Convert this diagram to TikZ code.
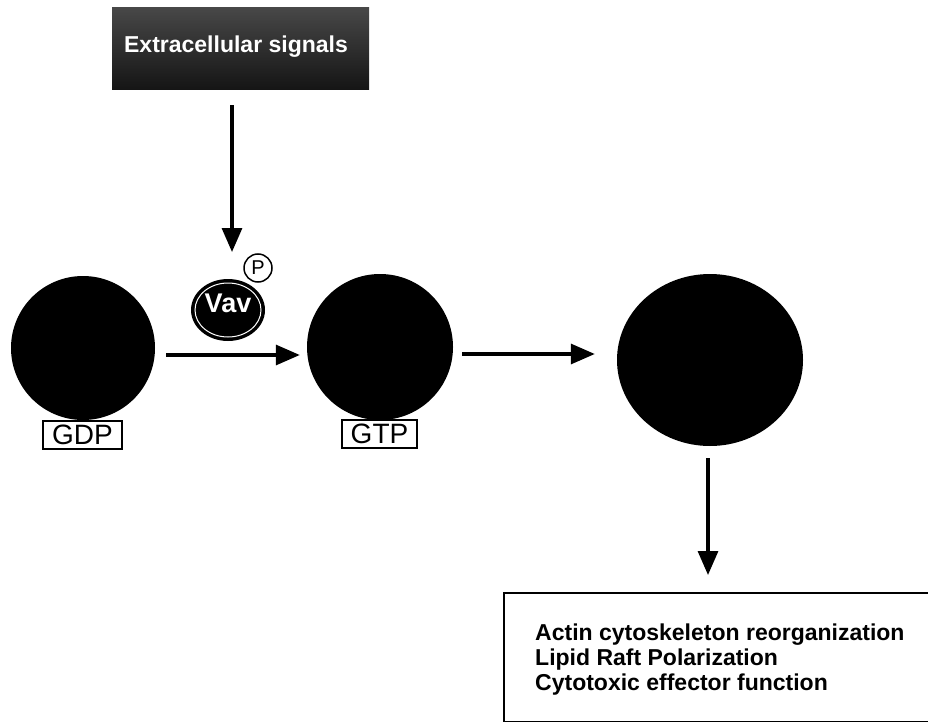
\documentclass[tikz,border=0pt]{standalone}
\usepackage{fontspec}
\setmainfont{Liberation Sans}
\usetikzlibrary{shapes.geometric,arrows.meta}
\begin{document}
\begin{tikzpicture}[x=1pt,y=-1pt,
  arr/.style={line width=3.2pt,-{Triangle[length=24pt,width=20pt]}},
  ball/.style={circle,fill=black,inner sep=0pt},
  tag/.style={draw,line width=1.8pt,inner sep=0pt,minimum height=28pt,font=\fontsize{28}{28}\selectfont},
  restxt/.style={anchor=base west,inner sep=0pt,font=\bfseries\fontsize{23}{25}\selectfont}]
\useasboundingbox (0,0) rectangle (928,722);
% top box
\node[top color=black!72,bottom color=black!92,minimum width=257pt,minimum height=82pt,inner sep=0pt] (sig) at (240.5,49) {};
\node[anchor=base,inner sep=0pt,text=white,font=\bfseries\fontsize{23}{23}\selectfont] (sigt) at (236,53) {Extracellular signals};
\coordinate (act) at (232,252);
% GTPase states
\node[ball,minimum size=144pt] (c1) at (83,348) {};
\node[ball,minimum size=146pt] (c2) at (380,347) {};
\node[ellipse,fill=black,inner sep=0pt,minimum width=186pt,minimum height=172pt] (c3) at (710,360) {};
\node[tag,minimum width=79pt] (gdp) at (82.5,435) {GDP};
\node[tag,minimum width=75pt] (gtp) at (379.5,434) {GTP};
% Vav
\node[ellipse,fill=black,inner sep=0pt,minimum width=74pt,minimum height=62pt] (vav) at (228,310) {};
\draw[white,line width=1pt] (vav.center) ellipse [x radius=33,y radius=27];
\node[inner sep=0pt,text=white,font=\bfseries\fontsize{27}{27}\selectfont] (vavt) at (228,303) {Vav};
\node[circle,draw,line width=1.5pt,fill=white,minimum size=28pt,inner sep=0pt,font=\fontsize{20}{20}\selectfont] (p) at (258,268) {P};
% result box
\node[draw,line width=1.6pt,anchor=north west,minimum width=440pt,minimum height=129pt,inner sep=0pt] (res) at (503,592) {};
\node[restxt] (r1) at (535,640) {Actin cytoskeleton reorganization};
\node[restxt] (r2) at (535,665) {Lipid Raft Polarization};
\node[restxt] (r3) at (535,690) {Cytotoxic effector function};
% arrows
\draw[arr,shorten <=15pt] ([xshift=-8.5pt]sig.south) -- (act);
\draw[arr,shorten <=11pt,shorten >=7pt] ([yshift=-7pt]c1.east) -- ([yshift=-7pt]c1.east -| c2.west);
\draw[arr,shorten <=9pt,shorten >=22pt] ([yshift=-7pt]c2.east) -- ([yshift=-7pt]c2.east -| c3.west);
\draw[arr,shorten <=12pt,shorten >=17pt] ([xshift=-2pt]c3.south) -- ([xshift=-2pt]c3.south |- res.north);
\end{tikzpicture}
\end{document}
